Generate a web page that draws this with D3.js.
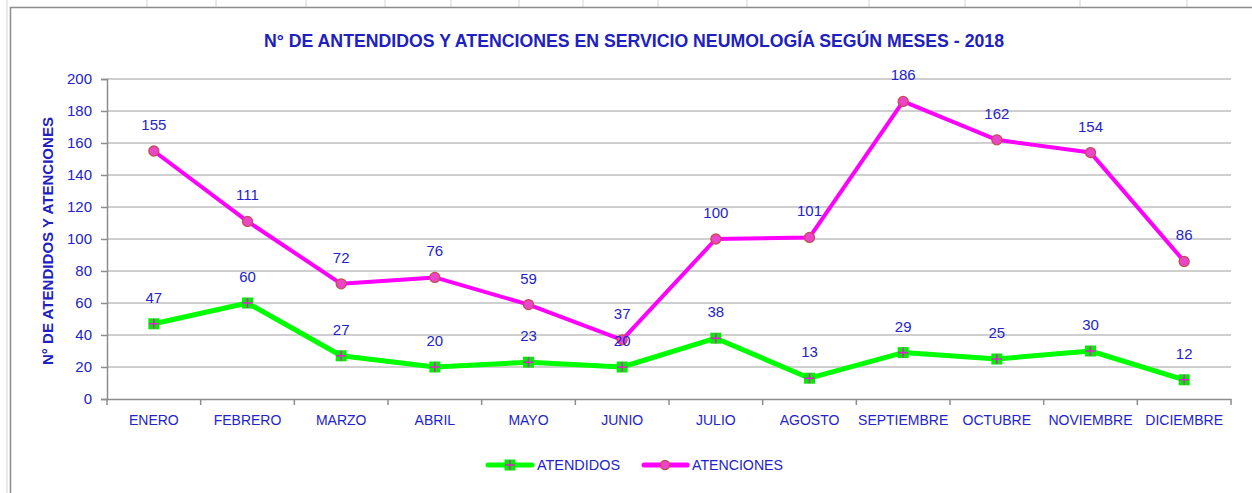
<!DOCTYPE html>
<html><head><meta charset="utf-8">
<script src="https://cdn.jsdelivr.net/npm/d3@7"></script>
<style>html,body{margin:0;padding:0;background:#fff;overflow:hidden}</style>
</head><body>
<svg id="c" width="1252" height="493"></svg>
<script>
const categories = ["ENERO","FEBRERO","MARZO","ABRIL","MAYO","JUNIO","JULIO","AGOSTO","SEPTIEMBRE","OCTUBRE","NOVIEMBRE","DICIEMBRE"];
const atendidos = [47,60,27,20,23,20,38,13,29,25,30,12];
const atenciones = [155,111,72,76,59,37,100,101,186,162,154,86];
const yTicks = [0,20,40,60,80,100,120,140,160,180,200];
const title = "N° DE ANTENDIDOS Y ATENCIONES EN SERVICIO NEUMOLOGÍA SEGÚN MESES  - 2018";
const yTitle = "N° DE ATENDIDOS Y ATENCIONES";
const seriesNames = ["ATENDIDOS","ATENCIONES"];

const svg = d3.select("#c");
const blue = "#2323cc";
const font = "'Liberation Sans', Arial, sans-serif";

// spreadsheet background cells at top
const cellX = [147,216,306,385,451,519,583,658,747,869,965,1080,1187];
svg.selectAll("line.cell").data(cellX).enter().append("line")
  .attr("x1",d=>d).attr("x2",d=>d).attr("y1",0).attr("y2",7)
  .attr("stroke","#d4d4d4").attr("stroke-width",1);
svg.append("line").attr("x1",7).attr("x2",7).attr("y1",0).attr("y2",493).attr("stroke","#d4d4d4");
// chart border
svg.append("rect").attr("x",10.5).attr("y",7.5).attr("width",1260).attr("height",500)
  .attr("fill","#fff").attr("stroke","#8c8c8c").attr("stroke-width",1.5);

const m = {l:107, r:1231, t:79, b:399};
const x = d3.scaleBand().domain(categories).range([m.l,m.r]);
const y = d3.scaleLinear().domain([0,200]).range([m.b,m.t]);

// gridlines
svg.append("g").selectAll("line").data(yTicks.filter(d=>d>0)).enter().append("line")
  .attr("x1",m.l).attr("x2",m.r).attr("y1",d=>y(d)).attr("y2",d=>y(d))
  .attr("stroke","#a0a0a0").attr("stroke-width",1.2);

// y axis
const ya = svg.append("g").attr("transform",`translate(${m.l},0)`)
  .call(d3.axisLeft(y).tickValues(yTicks).tickSize(6).tickPadding(9));
ya.select(".domain").attr("stroke","#8c8c8c").attr("stroke-width",1.5);
ya.selectAll(".tick line").attr("stroke","#8c8c8c").attr("stroke-width",1.5);
ya.selectAll("text").attr("fill",blue).attr("font-family",font).attr("font-size",15);

// x axis
const xa = svg.append("g").attr("transform",`translate(0,${m.b})`)
  .call(d3.axisBottom(x).tickSize(0).tickPadding(16));
xa.select(".domain").attr("stroke","#8c8c8c").attr("stroke-width",1.5);
xa.selectAll("text").attr("fill",blue).attr("font-family",font).attr("font-size",14);
const bounds = categories.map(c=>x(c)).concat([x(categories[categories.length-1])+x.bandwidth()]);
xa.selectAll("line.bt").data(bounds).enter().append("line").attr("class","bt")
  .attr("x1",d=>d).attr("x2",d=>d).attr("y1",0).attr("y2",6)
  .attr("stroke","#8c8c8c").attr("stroke-width",1.5);

const cx = c => x(c) + x.bandwidth()/2;
const line = vals => d3.line().x((d,i)=>cx(categories[i])).y(d=>y(d))(vals);

// ATENDIDOS
svg.append("path").attr("d",line(atendidos)).attr("fill","none")
  .attr("stroke","#00ff00").attr("stroke-width",5).attr("stroke-linejoin","round");
function greenMarker(g, px, py){
  g.append("rect").attr("x",px-5.5).attr("y",py-5.5).attr("width",11).attr("height",11).attr("fill","#00ee00");
  g.append("path").attr("d",`M${px-5},${py}H${px+5}M${px},${py-5}V${py+5}`)
    .attr("stroke","#e020d0").attr("stroke-width",1.6);
}
const gA = svg.append("g");
atendidos.forEach((v,i)=>greenMarker(gA, cx(categories[i]), y(v)));

// ATENCIONES
svg.append("path").attr("d",line(atenciones)).attr("fill","none")
  .attr("stroke","#ff00ff").attr("stroke-width",4).attr("stroke-linejoin","round");
svg.append("g").selectAll("circle").data(atenciones).enter().append("circle")
  .attr("cx",(d,i)=>cx(categories[i])).attr("cy",d=>y(d)).attr("r",5)
  .attr("fill","#ee44cc").attr("stroke","#c0504d").attr("stroke-width",1.3);

// data labels
function labels(vals){
  svg.append("g").selectAll("text").data(vals).enter().append("text")
    .attr("x",(d,i)=>cx(categories[i])).attr("y",d=>y(d)-21)
    .attr("text-anchor","middle").attr("fill",blue).attr("font-family",font).attr("font-size",15)
    .text(d=>d);
}
labels(atendidos);
labels(atenciones);

// title
svg.append("text").attr("x",634).attr("y",47).attr("text-anchor","middle")
  .attr("fill","#2020c0").attr("font-family",font).attr("font-weight","bold").attr("font-size",18)
  .attr("textLength",740).attr("lengthAdjust","spacingAndGlyphs").text(title);

// y title
svg.append("text").attr("transform","translate(53,241) rotate(-90)").attr("text-anchor","middle")
  .attr("fill","#2020c0").attr("font-family",font).attr("font-weight","bold").attr("font-size",14.5)
  .attr("textLength",248).attr("lengthAdjust","spacingAndGlyphs").text(yTitle);

// legend
const leg = svg.append("g");
const ly = 465;
leg.append("line").attr("x1",488).attr("x2",532).attr("y1",ly).attr("y2",ly)
  .attr("stroke","#00ff00").attr("stroke-width",5).attr("stroke-linecap","round");
greenMarker(leg, 510, ly);
leg.append("text").attr("x",537).attr("y",ly+5).attr("fill",blue).attr("font-family",font).attr("font-size",14)
  .attr("textLength",83).attr("lengthAdjust","spacingAndGlyphs").text(seriesNames[0]);
leg.append("line").attr("x1",644).attr("x2",687).attr("y1",ly).attr("y2",ly)
  .attr("stroke","#ff00ff").attr("stroke-width",5).attr("stroke-linecap","round");
leg.append("circle").attr("cx",665).attr("cy",ly).attr("r",4.5)
  .attr("fill","#ee44cc").attr("stroke","#c0504d").attr("stroke-width",1.3);
leg.append("text").attr("x",692).attr("y",ly+5).attr("fill",blue).attr("font-family",font).attr("font-size",14)
  .attr("textLength",91).attr("lengthAdjust","spacingAndGlyphs").text(seriesNames[1]);
</script>
</body></html>
